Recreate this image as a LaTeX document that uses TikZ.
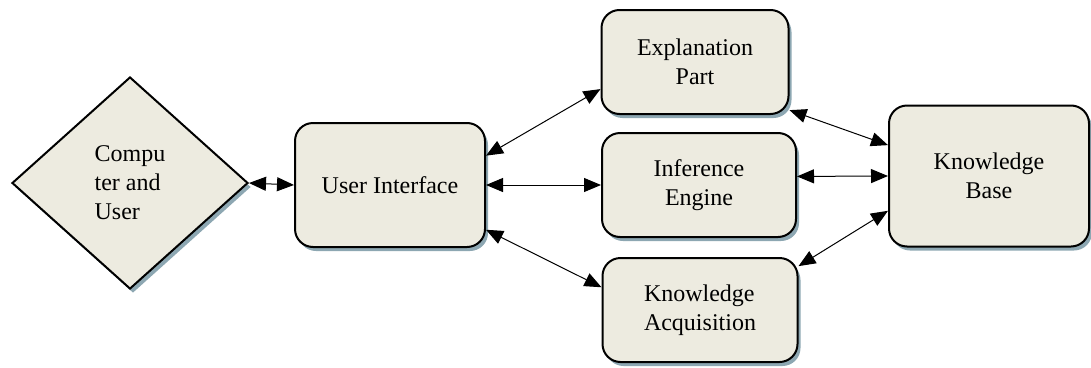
\documentclass[tikz,border=0pt]{standalone}
\usepackage{fontspec}
\setmainfont{Liberation Serif}
\usetikzlibrary{shapes.geometric,shadows,arrows.meta}
\definecolor{boxfill}{HTML}{EDEBE0}
\definecolor{shadowgray}{HTML}{8DA7B2}
\begin{document}
\begin{tikzpicture}[x=1pt,y=-1pt,
  font=\rmfamily\fontsize{24}{29}\selectfont,
  >={Triangle[length=17pt,width=14pt]},
  every node/.style={draw,line width=2pt,fill=boxfill,inner sep=2pt,
    drop shadow={shadow xshift=3pt,shadow yshift=-4pt,fill=shadowgray,opacity=1}},
  block/.style={rounded corners=18pt,align=center},
  link/.style={line width=1pt,<->}]
  \useasboundingbox (0,0) rectangle (1091,367);
  \node [diamond,minimum width=236pt,minimum height=212pt,align=left] (cu) at (130,183)
    {Compu\\ter and\\User};
  \node [block,minimum width=190pt,minimum height=124pt] (ui) at (390,185) {User Interface};
  \node [block,minimum width=187pt,minimum height=104pt] (ex) at (695,62) {Explanation\\Part};
  \node [block,minimum width=194pt,minimum height=104pt] (ie) at (699,185) {Inference\\Engine};
  \node [block,minimum width=195pt,minimum height=104pt,align=left] (ka) at (700,310) {Knowledge\\Acquisition};
  \node [block,minimum width=200pt,minimum height=141pt] (kb) at (989,176) {Knowledge\\Base};
  \draw [link] (cu.east) -- (ui.west);
  \draw [link] (ui.17) -- (ex.196);
  \draw [link] (ui.east) -- (ie.west);
  \draw [link] (ui.-25) -- (ka.167);
  \draw [link] (ex.-27) -- (kb.163);
  \draw [link] (ie.5) -- (kb.west);
  \draw [link] (ka.24) -- (kb.199);
\end{tikzpicture}
\end{document}
